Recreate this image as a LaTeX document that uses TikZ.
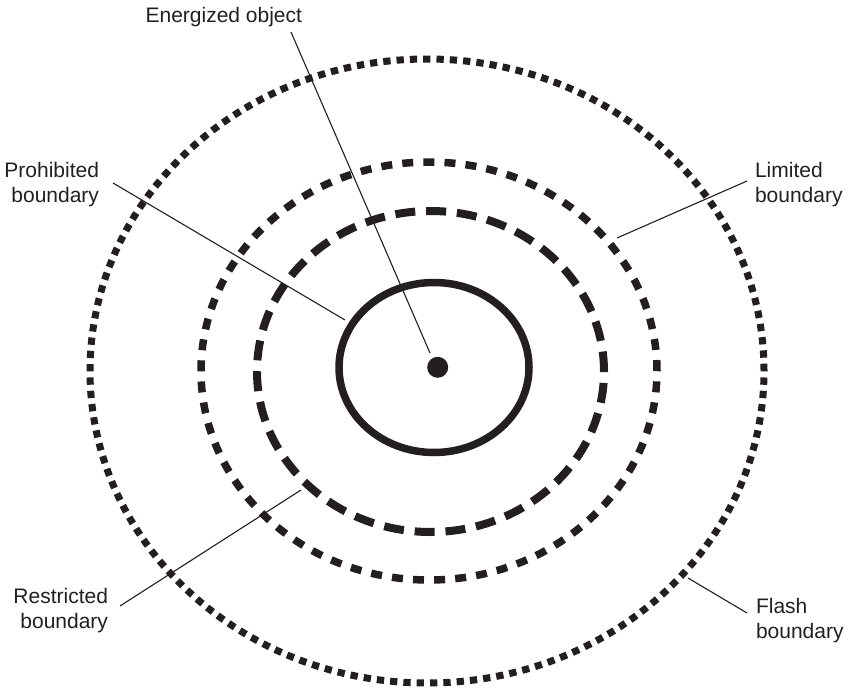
\documentclass[tikz,border=0pt]{standalone}
\usepackage{fontspec}
\setmainfont{Liberation Sans}
\usetikzlibrary{shapes.geometric}
\definecolor{ink}{RGB}{35,31,32}
\begin{document}
\begin{tikzpicture}[x=1pt,y=-1pt,
  lbl/.style={font=\fontsize{21}{25}\selectfont, text=ink, inner sep=0pt, outer sep=0pt},
  leader/.style={draw=ink, line width=1.1pt},
  zone/.style={ellipse, draw=ink, inner sep=0pt, outer sep=0pt},
  flashzone/.style={zone, line width=7pt, dash pattern=on 7.3pt off 6.03pt},
  limitzone/.style={zone, line width=7.5pt, dash pattern=on 11pt off 10.13pt},
  restrictzone/.style={zone, line width=8pt, dash pattern=on 20pt off 10.86pt},
  prohibitzone/.style={zone, line width=7.5pt}]
\useasboundingbox (0,0) rectangle (851,688);

% boundaries
\node[flashzone, minimum width=674pt, minimum height=624pt] (flash) at (427,371) {};
\node[limitzone, minimum width=456pt, minimum height=418pt] (limited) at (429,371) {};
\node[restrictzone, minimum width=347pt, minimum height=321pt] (restricted) at (430.5,371.5) {};
\node[prohibitzone, minimum width=190pt, minimum height=170pt] (prohibited) at (434,367.5) {};
\node[circle, fill=ink, minimum size=21pt, inner sep=0pt] (obj) at (437.7,367.3) {};

% labels
\node[lbl, anchor=base east] (tobj) at (302,23) {Energized object};
\node[lbl, anchor=north east, align=right] (tpro) at (99,162) {Prohibited\\boundary};
\node[lbl, anchor=north west, align=left] (tlim) at (755,162) {Limited\\boundary};
\node[lbl, anchor=north east, align=right] (tres) at (108,588) {Restricted\\boundary};
\node[lbl, anchor=north west, align=left] (tfla) at (756,598) {Flash\\boundary};

% leader end points
\coordinate (eobj1) at (291,32);
\coordinate (eobj2) at (430,353);
\coordinate (epro1) at (113,183);
\coordinate (epro2) at (345,320);
\coordinate (elim1) at (747,181);
\coordinate (elim2) at (617,238);
\coordinate (eres1) at (120,606);
\coordinate (eres2) at (301,490);
\coordinate (efla1) at (747,613);
\coordinate (efla2) at (688,578);

\draw[leader] (eobj1) -- (eobj2);
\draw[leader] (epro1) -- (epro2);
\draw[leader] (elim1) -- (elim2);
\draw[leader] (eres1) -- (eres2);
\draw[leader] (efla1) -- (efla2);
\end{tikzpicture}
\end{document}
